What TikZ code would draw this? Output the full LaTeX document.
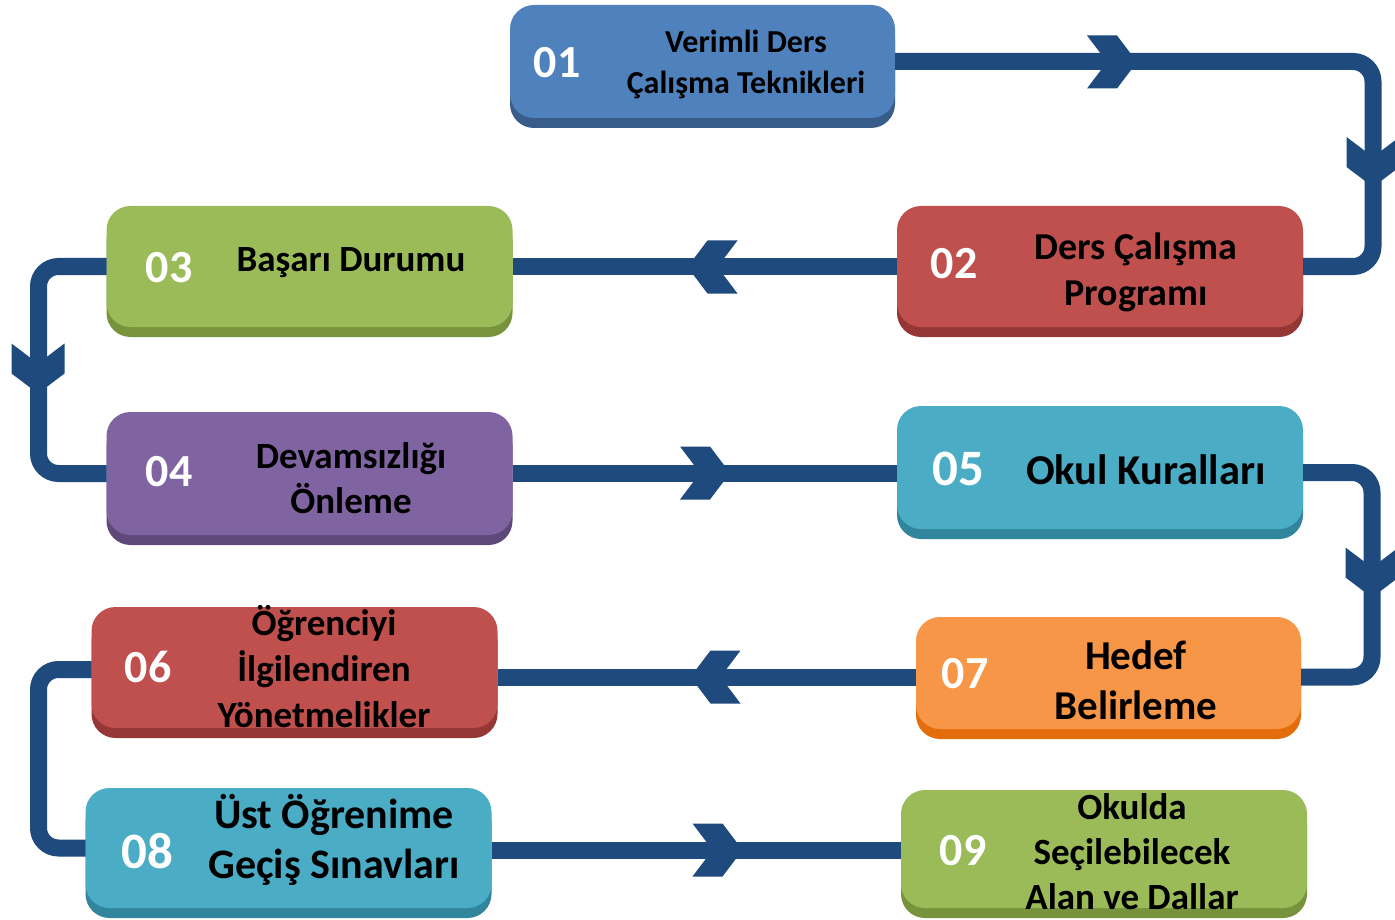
\documentclass[tikz,border=0pt]{standalone}
\usepackage{fontspec}
\setmainfont{Carlito}
\usepackage{tikz}
\usetikzlibrary{shadows}

\definecolor{flowc}{HTML}{1F4A7D}
\definecolor{blueA}{HTML}{4F81BD}\definecolor{blueB}{HTML}{385D8A}
\definecolor{redA}{HTML}{C0504D}\definecolor{redB}{HTML}{953735}
\definecolor{greenA}{HTML}{9BBB59}\definecolor{greenB}{HTML}{77933C}
\definecolor{violetA}{HTML}{8064A2}\definecolor{violetB}{HTML}{5F497A}
\definecolor{aquaA}{HTML}{4BACC6}\definecolor{aquaB}{HTML}{31859C}
\definecolor{orangeA}{HTML}{F79646}\definecolor{orangeB}{HTML}{E46C0A}

\tikzset{
  stage/.style 2 args={rectangle, rounded corners=24pt, fill=#1, draw=none,
    inner sep=0pt, outer sep=0pt, minimum width=406pt, minimum height=121pt,
    general shadow={fill=#2, shadow xshift=0pt, shadow yshift=-10pt}},
  num/.style={text=white, font=\bfseries\fontsize{#1}{#1}\selectfont},
  num/.default=46,
  lbl/.style 2 args={text=black, align=center, inner sep=0pt,
    font=\bfseries\fontsize{#1}{#2}\selectfont},
  flow/.style={draw=flowc, line width=17pt, rounded corners=20pt},
  chev/.pic={\fill[flowc] (-25,-26.5) -- (5,-26.5) -- (25,0) -- (5,26.5) -- (-25,26.5) -- (-5,0) -- cycle;}
}

\begin{document}
\begin{tikzpicture}[x=1pt,y=-1pt]
\useasboundingbox (0,0) rectangle (1395,920);

\node[stage={blueA}{blueB}, minimum width=385pt, minimum height=113pt] (b1) at (702.5,61.5) {};
\node[stage={redA}{redB}] (b2) at (1100,266.5) {};
\node[stage={greenA}{greenB}] (b3) at (309.5,266.5) {};
\node[stage={violetA}{violetB}, minimum height=123pt] (b4) at (309.5,473.5) {};
\node[stage={aquaA}{aquaB}, minimum height=123pt] (b5) at (1100,467.5) {};
\node[stage={redA}{redB}] (b6) at (294.5,667.5) {};
\node[stage={orangeA}{orangeB}, minimum width=385pt, minimum height=112pt] (b7) at (1108.5,673) {};
\node[stage={aquaA}{aquaB}, minimum height=120pt] (b8) at (288.5,848) {};
\node[stage={greenA}{greenB}, minimum height=118pt] (b9) at (1104,849) {};

\node[num] (n1) at (557,63) {01};
\node[num] (n2) at (954,264) {02};
\node[num] (n3) at (169,268) {03};
\node[num] (n4) at (169,472) {04};
\node[num=51] (n5) at (958,469) {05};
\node[num] (n6) at (148,667) {06};
\node[num] (n7) at (965,674) {07};
\node[num=51] (n8) at (147,851) {08};
\node[num] (n9) at (963,851) {09};

\node[lbl={32}{41}] (t1) at (746,64) {Verimli Ders\\Çalışma Teknikleri};
\node[lbl={38}{46}] (t2) at (1136,272) {Ders Çalışma\\Programı};
\node[lbl={37}{46}] (t3) at (351,263) {Başarı Durumu};
\node[lbl={37}{45}] (t4) at (351,478) {Devamsızlığı\\Önleme};
\node[lbl={42.5}{50}] (t5) at (1146,470) {Okul Kuralları};
\node[lbl={37}{46}] (t6) at (324,667) {Öğrenciyi\\İlgilendiren\\Yönetmelikler};
\node[lbl={41}{50}] (t7) at (1136,680) {Hedef\\Belirleme};
\node[lbl={42}{50}] (t8) at (334,840) {Üst Öğrenime\\Geçiş Sınavları};
\node[lbl={37}{45}] (t9) at (1132,852) {Okulda\\Seçilebilecek\\Alan ve Dallar};

\coordinate (j67) at ([yshift=-4pt]b7.west);
\draw[flow] (b1.east) -| ([xshift=70pt]b2.east) -- (b2.east);
\draw[flow] (b2.west) -- (b3.east);
\draw[flow] (b3.west) -| ([xshift=-68pt]b4.west) -- (b4.west);
\draw[flow] (b4.east) -- (b4.east -| b5.west);
\draw[flow] ([yshift=-5pt]b5.east) -| ([xshift=71pt,yshift=-4pt]b7.east) -- ([yshift=-4pt]b7.east);
\draw[flow] (j67) -- (j67 -| b6.east);
\draw[flow] ([yshift=-2pt]b6.west) -| ([xshift=-47pt]b8.west) -- (b8.west);
\draw[flow] ([yshift=-2pt]b8.east) -- ([yshift=-2pt]b8.east -| b9.west);

\pic at (1112,62) {chev};
\pic[rotate=-90] at (1373,162) {chev};
\pic[rotate=180] at (712.5,267) {chev};
\pic[rotate=-90] at (38,368.5) {chev};
\pic at (705,473) {chev};
\pic[rotate=-90] at (1372,572.5) {chev};
\pic[rotate=180] at (715.5,677) {chev};
\pic at (717.5,850) {chev};
\end{tikzpicture}
\end{document}
